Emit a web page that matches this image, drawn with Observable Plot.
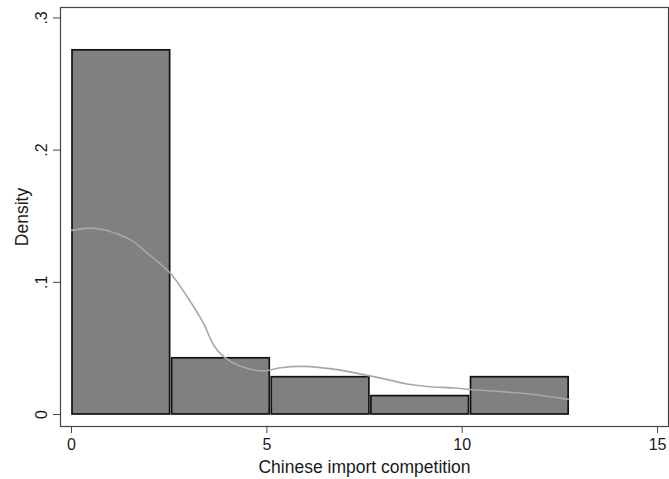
<!DOCTYPE html>
<html>
<head>
<meta charset="utf-8">
<script src="https://cdn.jsdelivr.net/npm/d3@7"></script>
<script src="https://cdn.jsdelivr.net/npm/@observablehq/plot@0.6"></script>
<style>
  html, body { margin: 0; padding: 0; background: #fff; }
  #chart svg { display: block; }
</style>
</head>
<body>
<div id="chart"></div>
<script>
// Histogram bins (Chinese import competition) and densities
const binEdges = [0, 2.55, 5.1, 7.65, 10.2, 12.75];
const binDensity = [0.2755, 0.0425, 0.0282, 0.0139, 0.0282];

// Kernel density estimate
const kdeX = [0.0, 0.49, 0.83, 1.21, 1.51, 1.94, 2.53, 2.96, 3.38, 3.64, 3.90, 4.32, 4.92, 5.35, 5.95, 6.80, 7.57, 8.17, 8.59, 9.10, 9.79, 10.30, 11.16, 11.84, 12.73];
const kdeY = [0.1393, 0.1410, 0.1397, 0.1361, 0.1323, 0.1221, 0.1069, 0.0891, 0.0689, 0.0524, 0.0435, 0.0365, 0.0330, 0.0354, 0.0364, 0.0339, 0.0296, 0.0258, 0.0230, 0.0212, 0.0200, 0.0187, 0.0169, 0.0151, 0.0113];

// Axis ticks
const xTicks = [0, 5, 10, 15];
const yTicks = [0, 0.1, 0.2, 0.3];
const yTickLabels = ["0", ".1", ".2", ".3"];

const xTitle = "Chinese import competition";
const yTitle = "Density";

const bars = binDensity.map((d, i) => ({x1: binEdges[i], x2: binEdges[i + 1], y: d}));
const kde = kdeX.map((x, i) => ({x, y: kdeY[i]}));
const yLab = yTicks.map((v, i) => ({v, label: yTickLabels[i]}));

const font = "Liberation Sans, Arial, Helvetica, sans-serif";

const chart = Plot.plot({
  width: 669,
  height: 479,
  marginLeft: 60,
  marginRight: 1,
  marginTop: 7,
  marginBottom: 53,
  style: {fontFamily: font, background: "#fff", color: "#1a1a1a"},
  x: {domain: [-0.2816, 15.28]},
  y: {domain: [-0.0091, 0.3079]},
  marks: [
    Plot.rect(bars, {x1: "x1", x2: "x2", y1: 0, y2: "y", fill: "#808080", stroke: "#111", strokeWidth: 1.7, insetLeft: 1, insetRight: 1}),
    Plot.line(kde, {x: "x", y: "y", stroke: "#a8a8a8", strokeWidth: 1.6, curve: "catmull-rom"}),
    Plot.frame({stroke: "#444", strokeWidth: 1.2}),
    Plot.axisX({ticks: xTicks, tickSize: 7, tickPadding: 5, tickFormat: d => String(d), fontSize: 16, label: null, stroke: "#444", fill: "#1a1a1a"}),
    Plot.axisY({ticks: yTicks, tickSize: 7, tickFormat: () => "", label: null, stroke: "#444"}),
    Plot.text(yLab, {y: "v", text: "label", frameAnchor: "left", dx: -14, rotate: -90, textAnchor: "middle", lineAnchor: "bottom", fontSize: 16, fill: "#1a1a1a"}),
    Plot.text([xTitle], {text: d => d, frameAnchor: "bottom", dy: 46, textAnchor: "middle", lineAnchor: "bottom", fontSize: 17.5, fill: "#1a1a1a"}),
    Plot.text([yTitle], {text: d => d, frameAnchor: "left", dx: -33, rotate: -90, textAnchor: "middle", lineAnchor: "bottom", fontSize: 17.5, fill: "#1a1a1a"})
  ]
});
document.getElementById("chart").appendChild(chart);
</script>
</body>
</html>
